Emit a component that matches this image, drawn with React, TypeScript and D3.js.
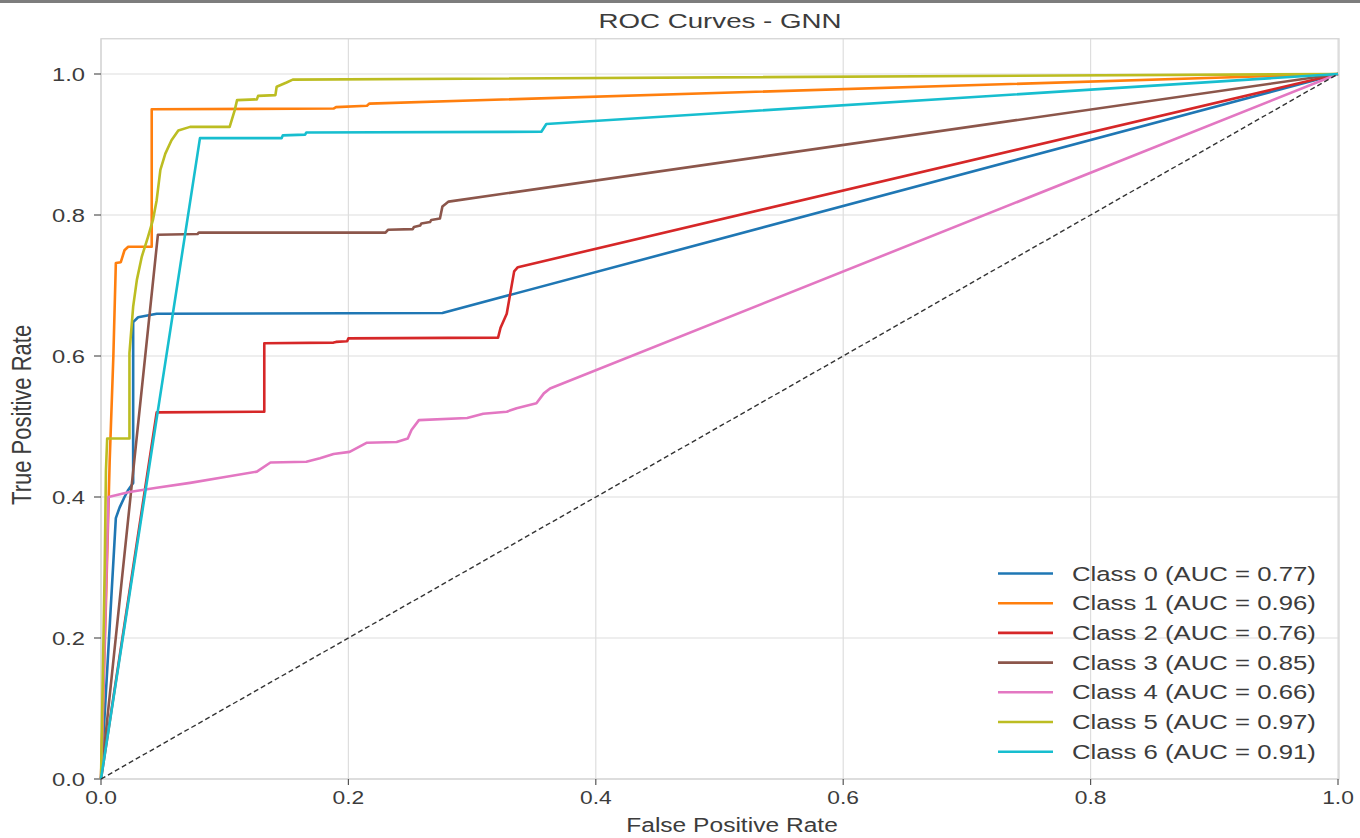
import React from "react";
import * as d3 from "d3";

const classLabels = ["Class 0", "Class 1", "Class 2", "Class 3", "Class 4", "Class 5", "Class 6"];
const aucValues = [0.77, 0.96, 0.76, 0.85, 0.66, 0.97, 0.91];
const classColors = ["#1f77b4", "#ff7f0e", "#d62728", "#8c564b", "#e377c2", "#bcbd22", "#17becf"];
const xTicks = [0, 0.2, 0.4, 0.6, 0.8, 1.0];
const yTicks = [0, 0.2, 0.4, 0.6, 0.8, 1.0];

const class0 = [[0, 0], [0.012, 0.37], [0.015, 0.385], [0.019, 0.4], [0.022, 0.41], [0.026, 0.42], [0.026, 0.648], [0.03, 0.655], [0.045, 0.66], [0.276, 0.661], [1, 1]];
const class1 = [[0, 0], [0.004, 0.25], [0.007, 0.45], [0.01, 0.6], [0.012, 0.732], [0.016, 0.733], [0.019, 0.75], [0.022, 0.755], [0.041, 0.755], [0.041, 0.95], [0.188, 0.951], [0.19, 0.953], [0.215, 0.955], [0.217, 0.958], [1, 1]];
const class2 = [[0, 0], [0.045, 0.52], [0.132, 0.521], [0.132, 0.618], [0.188, 0.619], [0.19, 0.62], [0.199, 0.621], [0.2, 0.625], [0.321, 0.626], [0.323, 0.64], [0.328, 0.66], [0.331, 0.69], [0.334, 0.72], [0.337, 0.726], [1, 1]];
const class3 = [[0, 0], [0.046, 0.772], [0.078, 0.773], [0.079, 0.775], [0.23, 0.775], [0.232, 0.779], [0.252, 0.78], [0.253, 0.783], [0.258, 0.785], [0.259, 0.788], [0.266, 0.79], [0.267, 0.793], [0.274, 0.795], [0.276, 0.812], [0.281, 0.819], [1, 1]];
const class4 = [[0, 0], [0.006, 0.4], [0.023, 0.407], [0.045, 0.413], [0.072, 0.42], [0.099, 0.428], [0.126, 0.436], [0.137, 0.449], [0.166, 0.45], [0.177, 0.455], [0.188, 0.461], [0.201, 0.464], [0.215, 0.477], [0.239, 0.478], [0.248, 0.483], [0.251, 0.495], [0.257, 0.509], [0.296, 0.512], [0.309, 0.518], [0.328, 0.521], [0.336, 0.526], [0.352, 0.533], [0.358, 0.547], [0.363, 0.554], [1, 1]];
const class5 = [[0, 0], [0.003, 0.3], [0.004, 0.438], [0.005, 0.483], [0.023, 0.483], [0.023, 0.604], [0.026, 0.67], [0.029, 0.708], [0.033, 0.741], [0.038, 0.769], [0.042, 0.793], [0.045, 0.821], [0.048, 0.864], [0.052, 0.887], [0.057, 0.906], [0.0625, 0.92], [0.072, 0.925], [0.104, 0.925], [0.108, 0.948], [0.11, 0.963], [0.126, 0.964], [0.127, 0.969], [0.141, 0.97], [0.142, 0.982], [0.15, 0.988], [0.155, 0.992], [1, 1]];
const class6 = [[0, 0], [0.08, 0.909], [0.146, 0.909], [0.147, 0.913], [0.165, 0.914], [0.166, 0.917], [0.356, 0.918], [0.36, 0.929], [1, 1]];
const allCurves = [class0, class1, class2, class3, class4, class5, class6];
const diagonal = [[0, 0], [1, 1]];

const W = 1360;
const H = 838;
const FONT = "'Liberation Sans', Arial, sans-serif";
const SX = 1.32;

function SText(props: { x: number; y: number; anchor?: string; size: number; sx?: number; children: React.ReactNode; fill: string }) {
  return (
    <text
      transform={`translate(${props.x},${props.y}) scale(${props.sx ?? SX},1)`}
      textAnchor={props.anchor || "start"}
      fontSize={props.size}
      fill={props.fill}
    >
      {props.children}
    </text>
  );
}

export default function App() {
  const x = d3.scaleLinear().domain([0, 1]).range([101, 1338]);
  const y = d3.scaleLinear().domain([0, 1]).range([779, 74]);
  const x0 = x(0), x1 = x(1) + 1, yTop = y(1.05), yBot = y(0);
  const line = d3.line<number[]>().x((d) => x(d[0])).y((d) => y(d[1]));
  const textColor = "#3c3c3c";

  return (
    <svg width={W} height={H} style={{ position: "absolute", left: 0, top: 0, background: "#fff" }} fontFamily={FONT}>
      <rect x={0} y={0} width={W} height={H} fill="#fff" />
      <rect x={0} y={0} width={W} height={3} fill="#7d7d7d" />
      {xTicks.map((t) => (
        <line key={"gx" + t} x1={x(t)} x2={x(t)} y1={yTop} y2={yBot} stroke="#dedede" strokeWidth={1.2} />
      ))}
      {yTicks.map((t) => (
        <line key={"gy" + t} x1={x0} x2={x1} y1={y(t)} y2={y(t)} stroke="#dedede" strokeWidth={1.2} />
      ))}
      <rect x={x0} y={yTop} width={x1 - x0} height={yBot - yTop} fill="none" stroke="#d4d4d4" strokeWidth={1.3} />
      {xTicks.map((t) => (
        <g key={"tx" + t}>
          <line x1={x(t)} x2={x(t)} y1={yBot} y2={yBot + 6} stroke="#555" strokeWidth={1.2} />
          <SText x={x(t)} y={yBot + 25} anchor="middle" size={19} sx={1.2} fill={textColor}>{t.toFixed(1)}</SText>
        </g>
      ))}
      {yTicks.map((t) => (
        <g key={"ty" + t}>
          <line x1={x0 - 7} x2={x0} y1={y(t)} y2={y(t)} stroke="#555" strokeWidth={1.2} />
          <SText x={x0 - 16} y={y(t) + 6.5} anchor="end" size={19} sx={1.25} fill={textColor}>{t.toFixed(1)}</SText>
        </g>
      ))}
      {allCurves.map((c, i) => (
        <path key={"c" + i} d={line(c as number[][]) || ""} fill="none" stroke={classColors[i]} strokeWidth={2.6} strokeLinejoin="round" />
      ))}
      <path d={line(diagonal) || ""} fill="none" stroke="#333" strokeWidth={1.4} strokeDasharray="5,3" />
      <SText x={(x0 + x1) / 2} y={28} anchor="middle" size={21} fill={textColor}>ROC Curves - GNN</SText>
      <SText x={(x0 + x1) / 2 + 12} y={832} anchor="middle" size={21} sx={1.17} fill={textColor}>False Positive Rate</SText>
      <text transform={`translate(31, ${(yTop + yBot) / 2 + 6}) scale(1.25,1) rotate(-90)`} textAnchor="middle" fontSize={22} fill={textColor}>True Positive Rate</text>
      {classLabels.map((lab, i) => {
        const ly = 573.5 + i * 29.7;
        return (
          <g key={"lg" + i}>
            <line x1={998} x2={1053} y1={ly} y2={ly} stroke={classColors[i]} strokeWidth={2.6} />
            <SText x={1072} y={ly + 7} size={19.5} fill={textColor}>{`${lab} (AUC = ${aucValues[i].toFixed(2)})`}</SText>
          </g>
        );
      })}
    </svg>
  );
}
